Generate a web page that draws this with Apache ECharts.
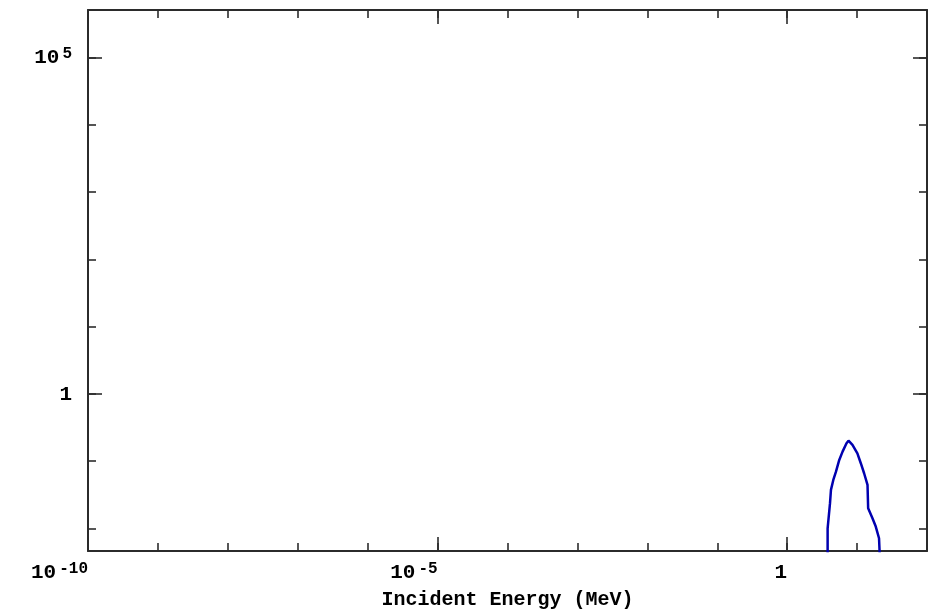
<!DOCTYPE html>
<html>
<head>
<meta charset="utf-8">
<script src="https://cdn.jsdelivr.net/npm/echarts@6/dist/echarts.min.js"></script>
<style>
  html, body { margin: 0; padding: 0; background: #ffffff; overflow: hidden; }
  #chart { width: 931px; height: 611px; }
</style>
</head>
<body>
<div id="chart"></div>
<script>
// ---- data ----
const energyMeV = [3.79, 3.79, 4.10, 4.23, 4.57, 4.99, 5.56, 6.20, 7.06, 7.54, 8.59, 10.1, 11.3, 12.6, 14.1, 14.4, 16.6, 18.5, 20.6, 21.1];
const crossSection = [0.004, 0.0101, 0.0238, 0.0375, 0.0527, 0.070, 0.1045, 0.139, 0.185, 0.202, 0.175, 0.131, 0.0934, 0.0663, 0.0445, 0.020, 0.0142, 0.0107, 0.00718, 0.004];

// axis ranges and tick positions
const xRange = [1e-10, 1e2];
const yRange = [0.00464, 5.05e5];
const xMinorTicks = [1e-10, 1e-9, 1e-8, 1e-7, 1e-6, 1e-5, 1e-4, 1e-3, 1e-2, 1e-1, 1, 10, 100];
const xMajorTicks = [1e-10, 1e-5, 1];
const yMinorTicks = [0.01, 0.1, 1, 10, 100, 1e3, 1e4, 1e5];
const yMajorTicks = [1, 1e5];
const xTitle = 'Incident Energy (MeV)';

const FONT = "'Liberation Mono', 'DejaVu Sans Mono', monospace";
const LINE = '#2b2b2b';

function powLabel(v) {
  const e = Math.round(Math.log10(v));
  if (e === 0) return '{b|1}';
  return '{b|10}{s|' + (e < 0 ? '-' + (-e) : String(e)) + '}';
}
const rich = {
  b: { fontFamily: FONT, fontWeight: 'bold', fontSize: 21, color: '#000', lineHeight: 22, verticalAlign: 'bottom' },
  s: { fontFamily: FONT, fontWeight: 'bold', fontSize: 16, color: '#000', lineHeight: 14, verticalAlign: 'top', padding: [0, 0, 8, 3] }
};

function xAxisDef(pos, ticks, len, withLine, labels) {
  return {
    type: 'log', logBase: 10, position: pos, min: xRange[0], max: xRange[1],
    axisLine: { show: withLine, onZero: false, lineStyle: { color: LINE, width: 2 } },
    axisTick: { show: true, inside: true, length: len, customValues: ticks, lineStyle: { color: LINE, width: 1.6 } },
    axisLabel: labels ? { show: true, customValues: ticks, formatter: powLabel, rich: rich, align: 'right', margin: 10 } : { show: false },
    splitLine: { show: false }, minorTick: { show: false }
  };
}
function yAxisDef(pos, ticks, len, withLine, labels) {
  return {
    type: 'log', logBase: 10, position: pos, min: yRange[0], max: yRange[1],
    axisLine: { show: withLine, onZero: false, lineStyle: { color: LINE, width: 2 } },
    axisTick: { show: true, inside: true, length: len, customValues: ticks, lineStyle: { color: LINE, width: 1.6 } },
    axisLabel: labels ? { show: true, customValues: ticks, formatter: powLabel, rich: rich, margin: 16 } : { show: false },
    splitLine: { show: false }, minorTick: { show: false }
  };
}

const xb = xAxisDef('bottom', xMinorTicks, 8, true, false);
xb.name = xTitle;
xb.nameLocation = 'middle';
xb.nameGap = 39;
xb.nameTextStyle = { fontFamily: FONT, fontWeight: 'bold', fontSize: 20, color: '#000' };

const option = {
  animation: false,
  backgroundColor: '#ffffff',
  grid: { left: 88, right: 4, top: 10, bottom: 60, containLabel: false, outerBoundsMode: 'none' },
  xAxis: [
    xb,
    xAxisDef('bottom', xMajorTicks, 14, false, true),
    xAxisDef('top', xMinorTicks, 8, true, false),
    xAxisDef('top', xMajorTicks, 14, false, false)
  ],
  yAxis: [
    yAxisDef('left', yMinorTicks, 8, true, false),
    yAxisDef('left', yMajorTicks, 14, false, true),
    yAxisDef('right', yMinorTicks, 8, true, false),
    yAxisDef('right', yMajorTicks, 14, false, false)
  ],
  series: [{
    type: 'line',
    xAxisIndex: 0, yAxisIndex: 0,
    data: energyMeV.map((e, i) => [e, crossSection[i]]),
    showSymbol: false, symbol: 'none',
    clip: true,
    lineStyle: { color: '#0000b0', width: 2.5 }
  }]
};

const chart = echarts.init(document.getElementById('chart'), null, { renderer: 'canvas' });
chart.setOption(option);
</script>
</body>
</html>
